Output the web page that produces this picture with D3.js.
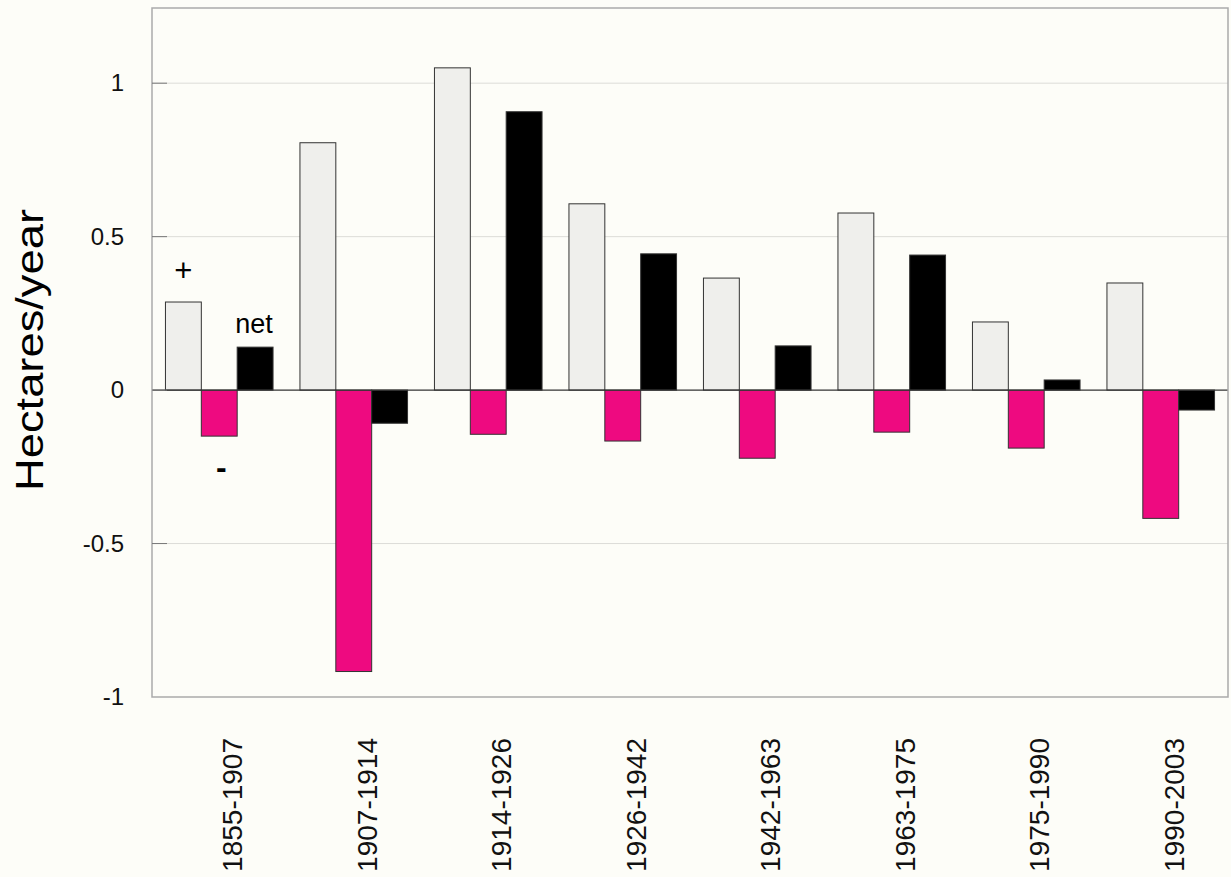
<!DOCTYPE html>
<html>
<head>
<meta charset="utf-8">
<script src="https://cdn.jsdelivr.net/npm/d3@7"></script>
<style>
  html, body { margin: 0; padding: 0; background: #fdfdf8; }
  svg { display: block; font-family: "Liberation Sans", Arial, sans-serif; }
</style>
</head>
<body>
<svg id="chart" width="1231" height="877"></svg>
<script>
// Periods and rates of change (hectares per year)
const periods = ["1855-1907", "1907-1914", "1914-1926", "1926-1942", "1942-1963", "1963-1975", "1975-1990", "1990-2003"];
const gains   = [0.287, 0.806, 1.050, 0.607, 0.365, 0.577, 0.222, 0.349];
const losses  = [-0.150, -0.917, -0.144, -0.166, -0.222, -0.137, -0.189, -0.418];
const net     = [0.140, -0.108, 0.907, 0.444, 0.144, 0.440, 0.033, -0.065];
const seriesKeys = ["gain", "loss", "net"];
const yTicks = [-1, -0.5, 0, 0.5, 1];

const colors = { gain: "#efefec", loss: "#ee0a80", net: "#000000" };

const svg = d3.select("#chart");
const margin = { left: 152, top: 8, right: 1228, bottom: 697 };

const x = d3.scaleBand().domain(periods).range([margin.left, margin.right]).paddingInner(0.2).paddingOuter(0.1);
const x1 = d3.scaleBand().domain(seriesKeys).range([0, x.bandwidth()]);
const y = d3.scaleLinear().domain([-1, 1.245]).range([margin.bottom, margin.top]);

// Gridlines
svg.append("g").selectAll("line").data(yTicks.filter(d => d !== 0 && d !== -1)).join("line")
  .attr("x1", margin.left).attr("x2", margin.right)
  .attr("y1", d => y(d)).attr("y2", d => y(d))
  .attr("stroke", "#dcdcd8").attr("stroke-width", 1);

// Bars
const rows = periods.map((p, i) => ({ period: p, gain: gains[i], loss: losses[i], net: net[i] }));
const groups = svg.append("g").selectAll("g").data(rows).join("g")
  .attr("transform", d => `translate(${x(d.period)},0)`);
groups.selectAll("rect").data(d => seriesKeys.map(k => ({ key: k, value: d[k] }))).join("rect")
  .attr("x", d => x1(d.key))
  .attr("width", x1.bandwidth())
  .attr("y", d => y(Math.max(0, d.value)))
  .attr("height", d => Math.abs(y(d.value) - y(0)))
  .attr("fill", d => colors[d.key])
  .attr("stroke", "#333")
  .attr("stroke-width", 1);

// Zero line
svg.append("line")
  .attr("x1", margin.left).attr("x2", margin.right)
  .attr("y1", y(0)).attr("y2", y(0))
  .attr("stroke", "#333").attr("stroke-width", 1.2);

// Frame
svg.append("rect")
  .attr("x", margin.left).attr("y", margin.top)
  .attr("width", margin.right - margin.left).attr("height", margin.bottom - margin.top)
  .attr("fill", "none").attr("stroke", "#aaaaaa").attr("stroke-width", 1.5);

// Y axis ticks (inside) and labels
const yAxis = d3.axisLeft(y).tickValues(yTicks).tickSize(0).tickPadding(28).tickFormat(d => String(d));
const yg = svg.append("g").attr("transform", `translate(${margin.left},0)`).call(yAxis);
yg.select(".domain").remove();
yg.selectAll("text").attr("font-size", 24).attr("fill", "#111").attr("font-family", "Liberation Sans, Arial, sans-serif");
svg.append("g").selectAll("line").data(yTicks.filter(d => d !== -1)).join("line")
  .attr("x1", margin.left).attr("x2", margin.left + 15)
  .attr("y1", d => y(d)).attr("y2", d => y(d))
  .attr("stroke", "#777").attr("stroke-width", 1);

// X labels, rotated
svg.append("g").selectAll("text").data(periods).join("text")
  .attr("transform", d => `translate(${x(d) + x.bandwidth() / 2 + 23},738) rotate(-90)`)
  .attr("text-anchor", "end")
  .attr("font-size", 28)
  .attr("fill", "#111")
  .text(d => d);

// Y title
svg.append("text")
  .attr("transform", "translate(43,350) rotate(-90)")
  .attr("text-anchor", "middle")
  .attr("font-size", 39)
  .attr("textLength", 282)
  .attr("lengthAdjust", "spacingAndGlyphs")
  .attr("fill", "#000")
  .text("Hectares/year");

// Series annotations on the first group
const g0 = x(periods[0]);
svg.append("text").attr("x", g0 + x1("gain") + x1.bandwidth() / 2).attr("y", y(gains[0]) - 21)
  .attr("text-anchor", "middle").attr("font-size", 31).attr("fill", "#000").text("+");
svg.append("text").attr("x", g0 + x1("net") + x1.bandwidth() / 2 - 1).attr("y", y(net[0]) - 14)
  .attr("text-anchor", "middle").attr("font-size", 27).attr("fill", "#000").text("net");
svg.append("text").attr("x", g0 + x1("loss") + x1.bandwidth() / 2 + 2).attr("y", y(losses[0]) + 42)
  .attr("text-anchor", "middle").attr("font-size", 32).attr("font-weight", "bold").attr("fill", "#000").text("-");
</script>
</body>
</html>
